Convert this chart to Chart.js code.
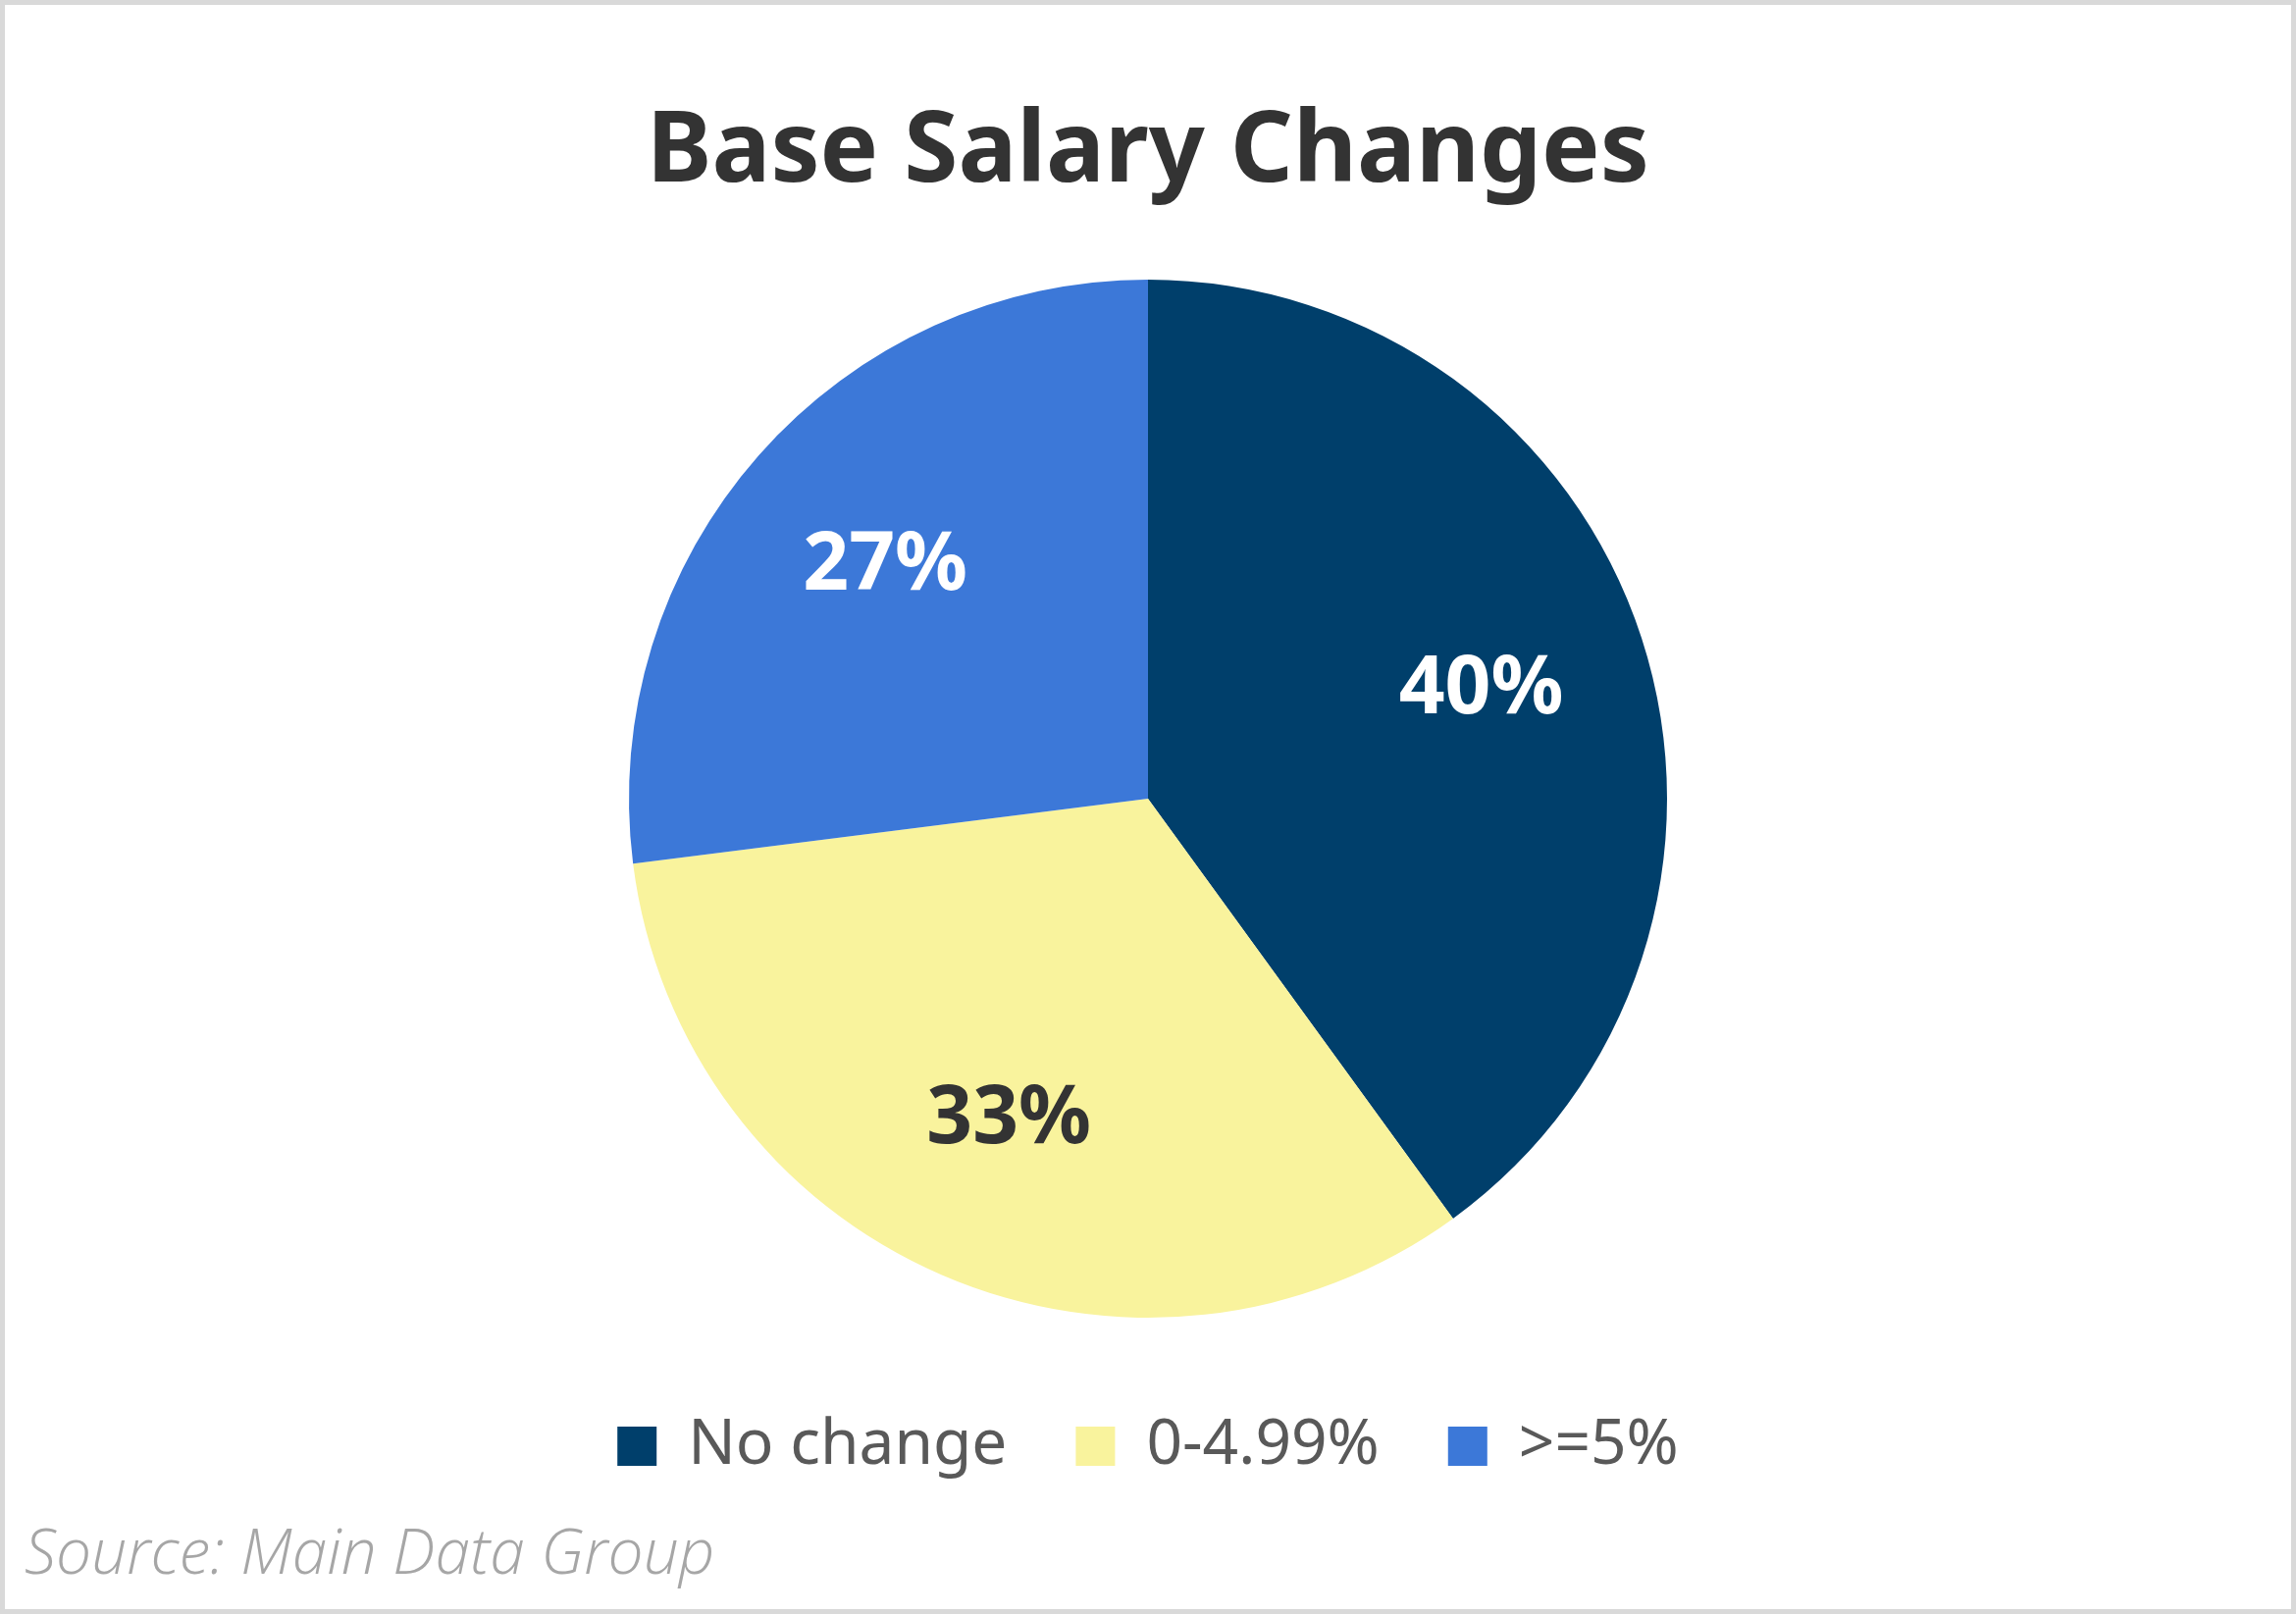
<!DOCTYPE html>
<html>
<head>
<meta charset="utf-8">
<script src="https://cdn.jsdelivr.net/npm/chart.js@4"></script>
<style>
  html, body { margin: 0; padding: 0; background: #fff; }
  #wrap { width: 2340px; height: 1645px; position: relative; }
  canvas { display: block; }
</style>
</head>
<body>
<div id="wrap"><canvas id="pieChart"></canvas></div>
<script>
const categories = ["No change", "0-4.99%", ">=5%"];
const shares = [40, 33, 27];
const sliceColors = ["#003f6b", "#f9f39d", "#3c78d8"];
const labelColors = ["#ffffff", "#333333", "#ffffff"];

const ctx = document.getElementById("pieChart").getContext("2d");

// white background plus light grey frame
const frame = {
    id: "frame",
    beforeDraw(chart) {
        const c = chart.ctx;
        c.save();
        c.fillStyle = "#ffffff";
        c.fillRect(0, 0, chart.width, chart.height);
        c.strokeStyle = "#d9d9d9";
        c.lineWidth = 5;
        c.strokeRect(2.5, 2.5, chart.width - 5, chart.height - 5);
        c.restore();
    }
};

// percentage labels inside the slices
const sliceLabels = {
    id: "sliceLabels",
    afterDatasetsDraw(chart) {
        const c = chart.ctx;
        const meta = chart.getDatasetMeta(0);
        c.save();
        c.font = "bold 82px 'Noto Sans'";
        c.textAlign = "center";
        c.textBaseline = "middle";
        meta.data.forEach((arc, i) => {
            const p = arc.getProps(["x", "y", "startAngle", "endAngle", "outerRadius"], true);
            const mid = (p.startAngle + p.endAngle) / 2;
            const r = p.outerRadius * 0.675;
            c.fillStyle = labelColors[i];
            c.fillText(shares[i] + "%", p.x + Math.cos(mid) * r, p.y + Math.sin(mid) * r);
        });
        c.restore();
    }
};

// source note, bottom left
const sourceNote = {
    id: "sourceNote",
    afterDraw(chart) {
        const c = chart.ctx;
        c.save();
        c.font = "italic 300 64px 'Open Sans'";
        c.fillStyle = "#a6a6a6";
        c.textAlign = "left";
        c.textBaseline = "alphabetic";
        c.fillText("Source: Main Data Group", 25, 1604);
        c.restore();
    }
};

new Chart(ctx, {
    type: "pie",
    data: {
        labels: categories,
        datasets: [{
            data: shares,
            backgroundColor: sliceColors,
            borderWidth: 0
        }]
    },
    options: {
        responsive: true,
        maintainAspectRatio: false,
        animation: false,
        devicePixelRatio: 1,
        layout: { padding: { left: 0, right: 0, top: 0, bottom: 129 } },
        plugins: {
            title: {
                display: true,
                text: "Base Salary Changes",
                color: "#333333",
                font: { family: "'Noto Sans'", size: 100, weight: "bold", lineHeight: 1.2 },
                padding: { top: 97, bottom: 68 }
            },
            legend: {
                display: true,
                position: "bottom",
                // empty title only used as a spacer above the legend row
                title: {
                    display: true,
                    text: "",
                    font: { size: 10, lineHeight: 1 },
                    padding: { top: 19, bottom: 0 }
                },
                labels: {
                    color: "#595959",
                    font: { family: "'Noto Sans'", size: 64 },
                    boxWidth: 40,
                    boxHeight: 40,
                    padding: 70
                }
            },
            tooltip: { enabled: false }
        }
    },
    plugins: [frame, sliceLabels, sourceNote]
});
</script>
</body>
</html>
